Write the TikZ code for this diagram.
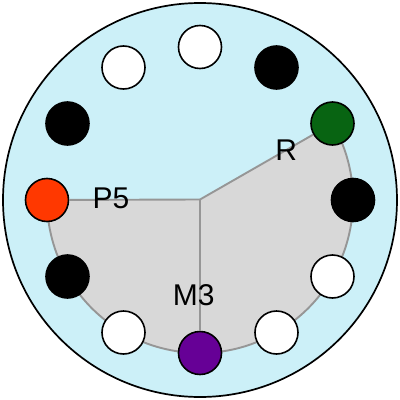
\documentclass[tikz,border=0pt]{standalone}
\usepackage{fontspec}
\setmainfont{Liberation Sans}
\definecolor{bgcyan}{RGB}{204,240,248}
\definecolor{sectgray}{RGB}{216,216,216}
\definecolor{edgegray}{RGB}{150,150,150}
\definecolor{dgreen}{RGB}{8,100,18}
\definecolor{orangered}{RGB}{255,56,0}
\definecolor{dpurple}{RGB}{102,0,150}
\begin{document}
\begin{tikzpicture}[x=1pt,y=1pt,
  ball/.style={circle,draw=black,line width=1.6pt,minimum size=43pt,inner sep=0pt},
  lab/.style={font=\fontsize{30}{34}\selectfont,inner sep=0pt},
  spoke/.style={draw=edgegray,line width=1.9pt}]
\useasboundingbox (-200,-200) rectangle (200,200);
\node[circle,draw=black,fill=bgcyan,line width=1.7pt,minimum size=394pt,inner sep=0pt] (outer) at (0,0) {};
\coordinate (c) at (0,0.5);
\fill[sectgray] (c) -- (30:153) arc[start angle=30,end angle=-180,radius=153] -- cycle;
\draw[edgegray,line width=1.9pt] (30:153) arc[start angle=30,end angle=-180,radius=153];
\node[ball,fill=white] (b90) at (90:153) {};
\node[ball,fill=black] (b60) at (60:153) {};
\node[ball,fill=dgreen] (b30) at (30:153) {};
\node[ball,fill=black] (b0) at (0:153) {};
\node[ball,fill=white] (bm30) at (-30:153) {};
\node[ball,fill=white] (bm60) at (-60:153) {};
\node[ball,fill=dpurple] (bm90) at (-90:153) {};
\node[ball,fill=white] (bm120) at (-120:153) {};
\node[ball,fill=black] (bm150) at (-150:153) {};
\node[ball,fill=orangered] (b180) at (180:153) {};
\node[ball,fill=black] (b150) at (150:153) {};
\node[ball,fill=white] (b120) at (120:153) {};
\path[spoke] (c) -- (b30);
\path[spoke] (c) -- (b180);
\path[spoke] (c) -- (bm90);
\node[lab] (lR) at (86.3,50) {R};
\node[lab] (lP) at (-89,1.2) {P5};
\node[lab] (lM) at (-6.2,-94.7) {M3};
\end{tikzpicture}
\end{document}
